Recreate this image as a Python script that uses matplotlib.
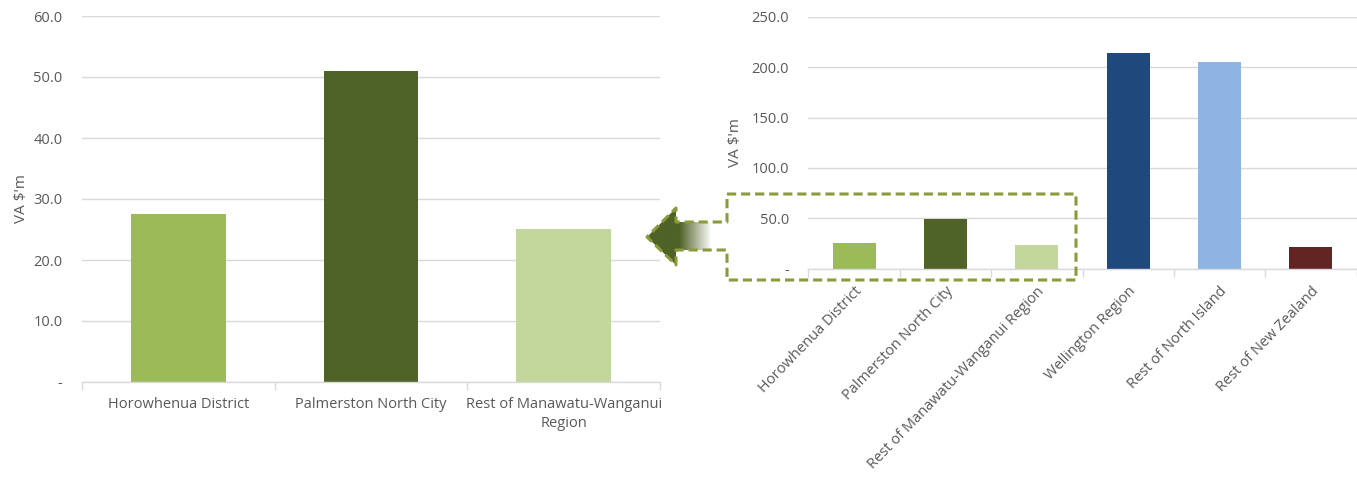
import matplotlib.pyplot as plt
import numpy as np
from matplotlib.patches import Polygon
from matplotlib.colors import LinearSegmentedColormap
from matplotlib.ticker import FixedLocator, FuncFormatter

# Data (VA $m)
left_cats = ["Horowhenua District", "Palmerston North City", "Rest of Manawatu-Wanganui\nRegion"]
left_vals = [27.5, 51.0, 25.1]
left_colors = ["#9BBB59", "#4F6228", "#C3D69B"]

right_cats = ["Horowhenua District", "Palmerston North City", "Rest of Manawatu-Wanganui Region",
              "Wellington Region", "Rest of North Island", "Rest of New Zealand"]
right_vals = [25.8, 49.6, 23.8, 214.0, 205.5, 21.8]
right_colors = ["#9BBB59", "#4F6228", "#C3D69B", "#1F497D", "#8DB4E2", "#632523"]

plt.rcParams['font.family'] = ['Open Sans', 'DejaVu Sans']
TXT = "#595959"
GRID = "#D9D9D9"
W, H = 1357, 483

fig = plt.figure(figsize=(W / 100, H / 100), dpi=100)


def px_axes(x0, y0, x1, y1):
    # axes placed with pixel edges (top-left origin)
    return fig.add_axes([x0 / W, 1 - y1 / H, (x1 - x0) / W, (y1 - y0) / H])


def fmt(v, pos):
    return "-" if abs(v) < 1e-9 else f"{v:.1f}"


def style(ax, n, ymax, step):
    ax.set_xlim(-0.5, n - 0.5)
    ax.set_ylim(0, ymax)
    ax.yaxis.set_major_locator(FixedLocator(np.arange(0, ymax + 0.1, step)))
    ax.yaxis.set_major_formatter(FuncFormatter(fmt))
    ax.grid(axis='y', color=GRID, linewidth=1)
    ax.set_axisbelow(True)
    for s in ['top', 'right', 'left']:
        ax.spines[s].set_visible(False)
    ax.spines['bottom'].set_color(GRID)
    ax.spines['bottom'].set_linewidth(1)
    ax.tick_params(axis='y', length=0, labelsize=10.5, labelcolor=TXT, pad=14)
    ax.tick_params(axis='x', which='major', length=0, labelcolor=TXT)
    ax.xaxis.set_minor_locator(FixedLocator(np.arange(-0.5, n, 1.0)))
    ax.tick_params(axis='x', which='minor', length=6, color=GRID, width=1)


# Left chart
ax1 = px_axes(82, 16, 660, 382)
ax1.bar(range(len(left_vals)), left_vals, width=0.49, color=left_colors)
style(ax1, len(left_vals), 60, 10)
ax1.set_xticks(range(len(left_cats)))
ax1.set_xticklabels(left_cats, fontsize=10.5, linespacing=1.3)
ax1.tick_params(axis='x', pad=11)
ax1.set_ylabel("VA $'m", fontsize=11, color=TXT, labelpad=3)

# Right chart
ax2 = px_axes(808.5, 17, 1356.5, 268.5)
ax2.bar(range(len(right_vals)), right_vals, width=0.47, color=right_colors)
style(ax2, len(right_vals), 250, 50)
ax2.set_xticks(range(len(right_cats)))
ax2.set_xticklabels(right_cats, fontsize=10.5, rotation=46, ha='right', rotation_mode='anchor')
ax2.tick_params(axis='x', pad=11)
ax2.set_ylabel("VA $'m", fontsize=11, color=TXT, labelpad=6)

# Overlay for the callout box and arrow (pixel coordinates)
ov = fig.add_axes([0, 0, 1, 1], zorder=10)
ov.set_xlim(0, W)
ov.set_ylim(H, 0)
ov.axis('off')
ov.patch.set_alpha(0)

OLIVE = "#8A9B3C"
callout = [(727, 194), (1076, 194), (1076, 280), (727, 280), (727, 250),
           (676, 250), (676, 265), (647, 237), (676, 208), (676, 222), (727, 222)]
arrow = [(710, 222), (676, 222), (676, 208), (647, 237), (676, 265), (676, 250), (710, 250)]

cmap = LinearSegmentedColormap.from_list("fade", ["#4F6228", "#4F6228", "#FFFFFF"])
grad = np.linspace(0, 1, 200).reshape(1, -1)
im = ov.imshow(grad, cmap=cmap, extent=(647, 712, 265, 208), aspect='auto', zorder=1)
clip = Polygon(arrow, closed=True, transform=ov.transData, facecolor='none', edgecolor='none')
ov.add_patch(clip)
im.set_clip_path(clip)

ov.add_patch(Polygon(callout, closed=True, fill=False, edgecolor=OLIVE, linewidth=2.2,
                     linestyle=(0, (3, 1.6)), joinstyle='round', zorder=2))

fig.savefig("out.png", dpi=100)
